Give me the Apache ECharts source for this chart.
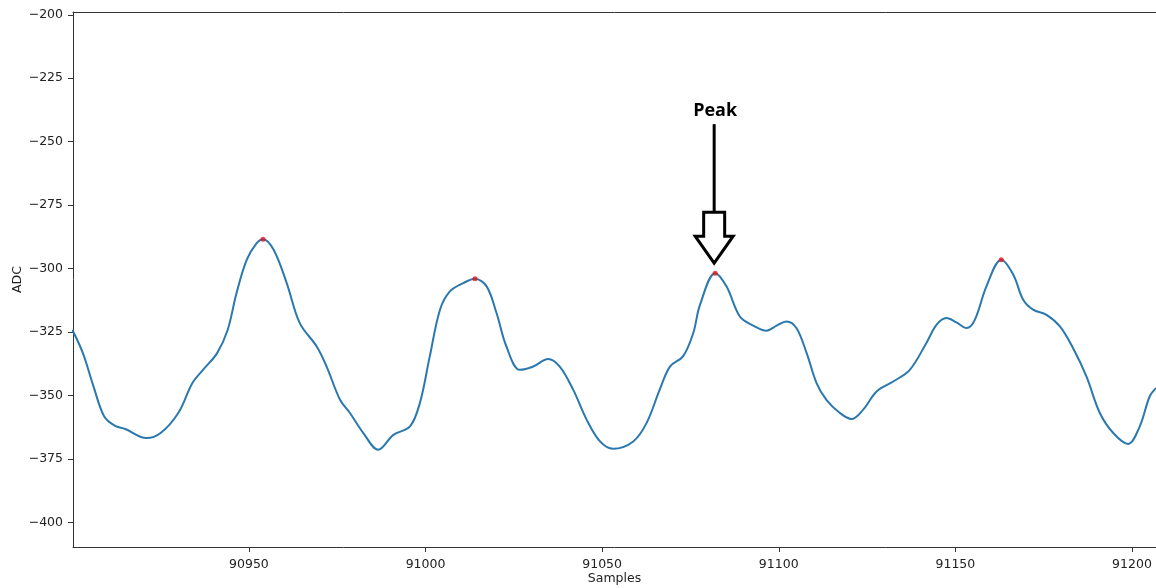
<!DOCTYPE html>
<html>
<head>
<meta charset="utf-8">
<script src="https://cdn.jsdelivr.net/npm/echarts@6/dist/echarts.min.js"></script>
<style>
  html, body { margin: 0; padding: 0; background: #fff; }
  #main { width: 1156px; height: 588px; }
</style>
</head>
<body>
<div id="main"></div>
<script>
// signal (sample index, ADC value)
var samples = [90900, 90903, 90906, 90909, 90912, 90915, 90921, 90925, 90930, 90934,
  90937, 90941, 90944, 90946.5, 90949.4, 90952.2, 90954, 90957, 90960.7, 90964.4,
  90969.2, 90972, 90975.8, 90978.6, 90982.4, 90986.6, 90990.9, 90995.6, 90998.4, 91001.2,
  91004.1, 91006.9, 91010.7, 91014, 91017.3, 91020.1, 91022.9, 91026.7, 91030.5, 91034.7,
  91038, 91041.8, 91045.6, 91049.4, 91053.1, 91058.8, 91062.6, 91066.3, 91069.2, 91072.9,
  91075.8, 91077.7, 91082, 91085.2, 91089, 91092.8, 91096.5, 91099.4, 91102.2, 91105,
  91107.9, 91110.7, 91113.5, 91117.3, 91120.6, 91123.9, 91127.7, 91132.4, 91137.1, 91141.8,
  91144.7, 91147.5, 91150.3, 91153.2, 91155.5, 91158.8, 91163, 91166.4, 91169.2, 91172,
  91175.8, 91179.6, 91183.3, 91187.1, 91190.9, 91194.7, 91198.9, 91202.2, 91205, 91206.8];
var adc = [-324.1, -333.3, -346.4, -358.2, -361.9, -363.2, -366.8, -364.8, -356.9, -345.1,
  -339.9, -333.3, -324.1, -309.6, -296.5, -290.0, -288.4, -292.6, -305.7, -321.5,
  -330.7, -338.6, -351.7, -356.9, -364.8, -371.4, -365.5, -362.2, -353.0, -334.6,
  -316.2, -309.0, -305.7, -304.0, -307.0, -317.5, -330.7, -339.9, -338.6, -335.6,
  -338.6, -347.7, -359.5, -368.1, -371.0, -368.1, -360.8, -347.7, -338.6, -334.6,
  -325.4, -314.3, -301.8, -307.0, -318.9, -322.5, -324.5, -322.5, -320.8, -323.4,
  -333.3, -345.1, -351.7, -356.9, -359.3, -355.6, -348.4, -344.5, -339.9, -329.3,
  -322.1, -319.5, -321.2, -323.4, -320.2, -307.0, -296.5, -302.4, -312.3, -316.2,
  -318.2, -322.8, -331.3, -342.5, -356.9, -364.8, -369.1, -362.2, -350.4, -347.1];

// detected peaks (red dots)
var peakSamples = [90954, 91014, 91082, 91163];
var peakAdc = [-288.4, -304.0, -301.8, -296.5];
var arrowPeak = 2; // the peak the "Peak" arrow points at

var xTicks = [90950, 91000, 91050, 91100, 91150, 91200];
var yTicks = [-400, -375, -350, -325, -300, -275, -250, -225, -200];

var chart = echarts.init(document.getElementById('main'));

var lineData = samples.map(function (s, i) { return [s, adc[i]]; });
var peakData = peakSamples.map(function (s, i) { return [s, peakAdc[i]]; });

var tickFont = { fontFamily: 'DejaVu Sans', fontSize: 12.5, color: '#222' };

var option = {
  animation: false,
  backgroundColor: '#fff',
  grid: { left: 73, right: 0, top: 12, bottom: 41, containLabel: false, outerBoundsMode: 'none' },
  xAxis: [{
    type: 'value',
    min: 90900.2,
    max: 91206.8,
    name: 'Samples',
    nameLocation: 'middle',
    nameGap: 25,
    nameMoveOverlap: false,
    nameTextStyle: tickFont,
    splitLine: { show: false },
    axisLine: { show: true, lineStyle: { color: '#333', width: 1 } },
    axisTick: { show: true, inside: false, length: 5, customValues: xTicks, lineStyle: { color: '#333' } },
    axisLabel: Object.assign({
      margin: 11,
      customValues: xTicks,
      formatter: function (v) { return String(v); }
    }, tickFont)
  }, {
    type: 'value',
    position: 'top',
    min: 90900.2,
    max: 91206.8,
    splitLine: { show: false },
    axisLine: { show: true, lineStyle: { color: '#333', width: 1 } },
    axisTick: { show: false },
    axisLabel: { show: false }
  }],
  yAxis: {
    type: 'value',
    min: -409.7,
    max: -198.9,
    name: 'ADC',
    nameLocation: 'middle',
    nameGap: 49,
    nameMoveOverlap: false,
    nameRotate: 90,
    nameTextStyle: tickFont,
    splitLine: { show: false },
    axisLine: { show: true, lineStyle: { color: '#333', width: 1 } },
    axisTick: { show: true, inside: false, length: 5, customValues: yTicks, lineStyle: { color: '#333' } },
    axisLabel: Object.assign({
      margin: 10,
      customValues: yTicks,
      formatter: function (v) { return String(v).replace('-', '\u2212'); }
    }, tickFont)
  },
  series: [{
    type: 'line',
    data: lineData,
    smooth: 0.35,
    showSymbol: false,
    lineStyle: { color: '#2a78ae', width: 2 },
    z: 2
  }, {
    type: 'scatter',
    data: peakData,
    symbolSize: 5,
    itemStyle: { color: '#e8141b' },
    z: 3
  }]
};

chart.setOption(option);

// hollow arrow + label above the marked peak, placed from the peak's data position
var p = chart.convertToPixel({ xAxisIndex: 0, yAxisIndex: 0 }, [peakSamples[arrowPeak], peakAdc[arrowPeak]]);
var tx = p[0] - 1, ty = p[1] - 10;
chart.setOption({
  graphic: [{
    type: 'line',
    shape: { x1: tx, y1: ty - 139, x2: tx, y2: ty - 51 },
    style: { stroke: '#000', lineWidth: 3 },
    z: 10
  }, {
    type: 'polygon',
    shape: {
      points: [
        [tx - 10.5, ty - 51], [tx + 10.5, ty - 51], [tx + 10.5, ty - 27],
        [tx + 19, ty - 27], [tx, ty], [tx - 19, ty - 27], [tx - 10.5, ty - 27]
      ]
    },
    style: { fill: 'none', stroke: '#000', lineWidth: 3, lineJoin: 'miter' },
    z: 10
  }, {
    type: 'text',
    x: tx + 1,
    y: ty - 152,
    style: {
      text: 'Peak',
      fill: '#000',
      font: 'bold 18px "Open Sans"',
      align: 'center',
      verticalAlign: 'middle'
    },
    z: 10
  }]
});
</script>
</body>
</html>
